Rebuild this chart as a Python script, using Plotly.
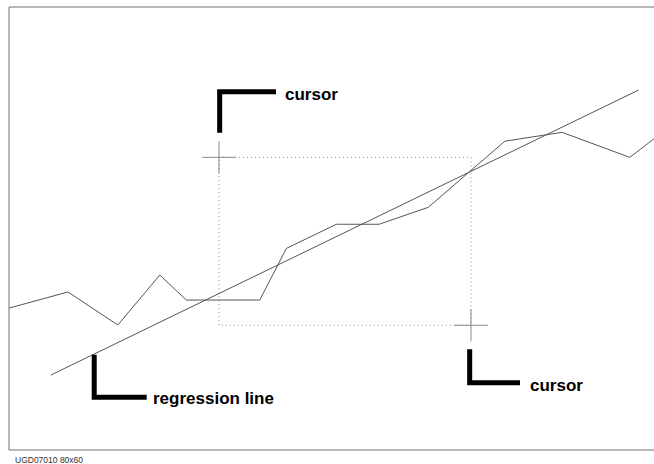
import plotly.graph_objects as go

# Measured series (x in mm along the plot, y in mm)
series_x = [0.0, 7.32, 13.5, 18.7, 22.0, 31.1, 34.4, 40.6, 45.9, 52.0, 61.5, 68.6, 77.0, 80.0]
series_y = [17.6, 19.6, 15.5, 21.7, 18.6, 18.6, 25.0, 28.0, 28.0, 30.1, 38.3, 39.4, 36.3, 38.6]

# Regression line end points
regression_x = [5.2, 78.1]
regression_y = [9.3, 44.65]

# Cursor positions (upper-left and lower-right corners of the window)
cursor_x = [26.05, 57.3]
cursor_y = [36.3, 15.47]

footer_text = "UGD07010 80x60"

X_RANGE = [0, 80]
Y_RANGE = [0, 80 * 443 / 645]
LINE_GREY = "#555555"
CROSS_GREY = "#8a8a8a"
FRAME_GREY = "#707070"
FONT = "Liberation Sans, Arial, sans-serif"

fig = go.Figure()

# Dotted window between the two cursors
x0, x1 = cursor_x
y0, y1 = cursor_y
fig.add_trace(go.Scatter(
    x=[x0, x1, x1, x0, x0], y=[y0, y0, y1, y1, y0],
    mode="lines", line=dict(color="#8a8a8a", width=1, dash="1px,3px"),
    hoverinfo="skip", showlegend=False,
))

# Data polyline
fig.add_trace(go.Scatter(
    x=series_x, y=series_y, mode="lines",
    line=dict(color=LINE_GREY, width=1),
    hoverinfo="skip", showlegend=False,
))

# Regression line
fig.add_trace(go.Scatter(
    x=regression_x, y=regression_y, mode="lines",
    line=dict(color=LINE_GREY, width=1),
    hoverinfo="skip", showlegend=False,
))

# Cursor crosshairs
arm_x, arm_y = 2.1, 2.0
for cx, cy in zip(cursor_x, cursor_y):
    fig.add_shape(type="line", x0=cx - arm_x, x1=cx + arm_x, y0=cy, y1=cy,
                  line=dict(color=CROSS_GREY, width=1))
    fig.add_shape(type="line", x0=cx, x1=cx, y0=cy - arm_y, y1=cy + arm_y,
                  line=dict(color=CROSS_GREY, width=1))

# Thick L-shaped callouts with their labels
callouts = [
    (((26.13, 39.35), (26.13, 44.43), (33.12, 44.43)), (33.98, 44.15), "cursor"),
    (((57.14, 12.49), (57.14, 8.33), (63.38, 8.33)), (64.37, 7.94), "cursor"),
    (((10.57, 11.82), (10.57, 6.55), (17.08, 6.55)), (17.61, 6.45), "regression line"),
]
for pts, (tx, ty), label in callouts:
    path = "M {} {} L {} {} L {} {}".format(*pts[0], *pts[1], *pts[2])
    fig.add_shape(type="path", path=path, line=dict(color="black", width=5))
    fig.add_annotation(x=tx, y=ty, text="<b>" + label + "</b>", showarrow=False,
                       xanchor="left", yanchor="middle",
                       font=dict(family=FONT, size=17, color="black"))

# Frame: left, top and bottom edges
for sx0, sy0, sx1, sy1 in [(0, 0, 0, 1), (0, 1, 1, 1), (0, 0, 1, 0)]:
    fig.add_shape(type="line", xref="paper", yref="paper",
                  x0=sx0, y0=sy0, x1=sx1, y1=sy1,
                  line=dict(color=FRAME_GREY, width=1))

fig.add_annotation(xref="paper", yref="paper", x=4 / 645, y=-10 / 443,
                   text=footer_text, showarrow=False,
                   xanchor="left", yanchor="middle",
                   font=dict(family=FONT, size=8.5, color="#333333"))

fig.update_layout(
    width=654, height=464,
    margin=dict(l=9, r=0, t=7, b=14),
    paper_bgcolor="white", plot_bgcolor="white",
    xaxis=dict(range=X_RANGE, visible=False, fixedrange=True),
    yaxis=dict(range=Y_RANGE, visible=False, fixedrange=True),
    hovermode=False,
)

fig.write_html("out.html", config={"displayModeBar": False})
